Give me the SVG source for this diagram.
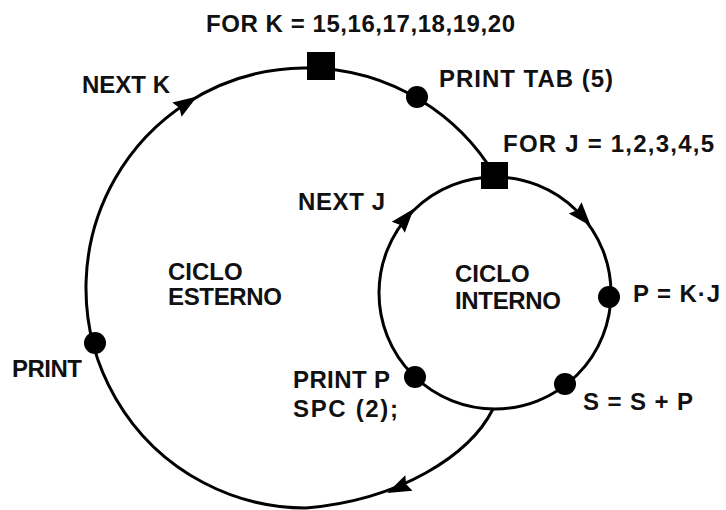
<svg xmlns="http://www.w3.org/2000/svg" xmlns:xlink="http://www.w3.org/1999/xlink" width="726" height="510" viewBox="0 0 726 510">
  <defs>
    <style>
      .line { fill: none; stroke: #000; stroke-width: 3; }
      .dot { fill: #000; }
      .sq { fill: #000; }
      .lbl { font-family: "Liberation Sans", Arial, sans-serif; font-weight: bold; font-size: 24px; fill: #111; }
    </style>
    <path id="ah" d="M12,0 L-12,-8.5 L-9,0 L-12,8.5 Z" fill="#000"/>
  </defs>
  <rect width="726" height="510" fill="#fff"/>

  <g id="connectors">
    <path class="line" d="M306,508 A220,220 0 1 1 495,175.4"/>
    <circle class="line" cx="495" cy="293" r="116"/>
    <path class="line" d="M493,409 C470,455 400,500 306,508"/>
    <use xlink:href="#ah" href="#ah" transform="translate(187,103) rotate(-33)"/>
    <use xlink:href="#ah" href="#ah" transform="translate(583,217) rotate(49)"/>
    <use xlink:href="#ah" href="#ah" transform="translate(406,218) rotate(-50)"/>
    <use xlink:href="#ah" href="#ah" transform="translate(398,488) rotate(155)"/>
  </g>

  <g id="for-k">
    <rect class="sq" x="307" y="52" width="28" height="28"/>
    <text class="lbl" x="206" y="32" textLength="309" lengthAdjust="spacing">FOR K = 15,16,17,18,19,20</text>
  </g>
  <g id="next-k">
    <text class="lbl" x="82" y="93" textLength="88" lengthAdjust="spacing">NEXT K</text>
  </g>
  <g id="print-tab">
    <circle class="dot" cx="417" cy="97" r="11"/>
    <text class="lbl" x="439" y="87" textLength="174" lengthAdjust="spacing">PRINT TAB (5)</text>
  </g>
  <g id="for-j">
    <rect class="sq" x="481" y="162" width="27" height="27"/>
    <text class="lbl" x="503" y="152" textLength="211" lengthAdjust="spacing">FOR J = 1,2,3,4,5</text>
  </g>
  <g id="next-j">
    <text class="lbl" x="298" y="210" textLength="87" lengthAdjust="spacing">NEXT J</text>
  </g>
  <g id="ciclo-esterno">
    <text class="lbl" x="168" y="280">CICLO</text>
    <text class="lbl" x="168" y="305" textLength="114" lengthAdjust="spacing">ESTERNO</text>
  </g>
  <g id="ciclo-interno">
    <text class="lbl" x="455" y="282">CICLO</text>
    <text class="lbl" x="455" y="309" textLength="106" lengthAdjust="spacing">INTERNO</text>
  </g>
  <g id="p-kj">
    <circle class="dot" cx="609" cy="297" r="11"/>
    <text class="lbl" x="633" y="302" textLength="87" lengthAdjust="spacing">P = K·J</text>
  </g>
  <g id="s-sp">
    <circle class="dot" cx="565" cy="384" r="11"/>
    <text class="lbl" x="583" y="410" textLength="110" lengthAdjust="spacing">S = S + P</text>
  </g>
  <g id="print-p">
    <circle class="dot" cx="415" cy="377" r="11"/>
    <text class="lbl" x="293" y="388" textLength="97" lengthAdjust="spacing">PRINT P</text>
    <text class="lbl" x="293" y="417" textLength="105" lengthAdjust="spacing">SPC (2);</text>
  </g>
  <g id="print">
    <circle class="dot" cx="95" cy="343" r="11"/>
    <text class="lbl" x="12" y="377" textLength="70" lengthAdjust="spacing">PRINT</text>
  </g>
</svg>
